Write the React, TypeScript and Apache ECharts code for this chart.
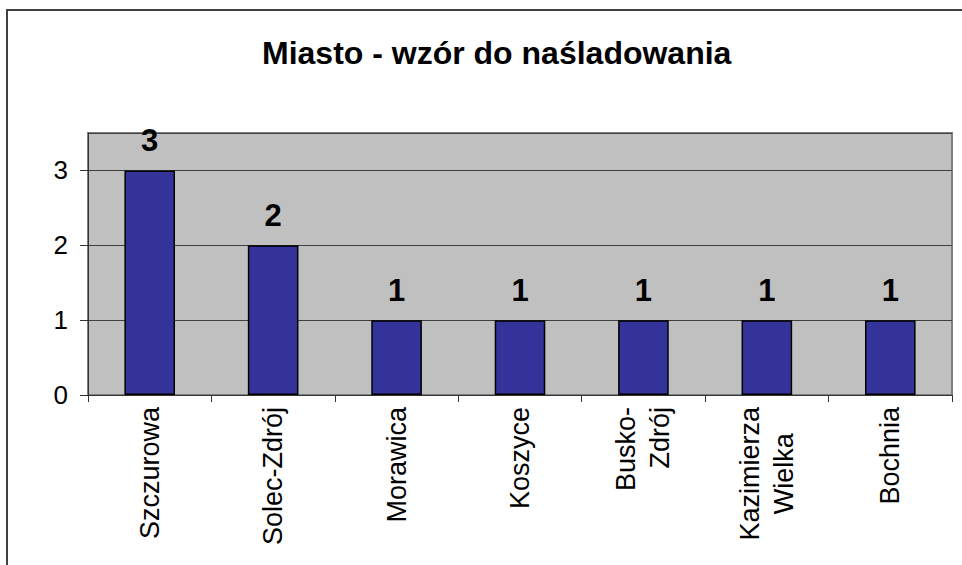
import React, { useEffect, useRef } from "react";
import * as echarts from "echarts";

const TITLE = "Miasto - wzór do naśladowania";
const categories = [
  "Szczurowa",
  "Solec-Zdrój",
  "Morawica",
  "Koszyce",
  "Busko-\nZdrój",
  "Kazimierza\nWielka",
  "Bochnia",
];
const values = [3, 2, 1, 1, 1, 1, 1];
const yTicks = [0, 1, 2, 3];

const FONT = "'Liberation Sans', Arial, sans-serif";

export default function App() {
  const ref = useRef<HTMLDivElement>(null);
  useEffect(() => {
    if (!ref.current) return;
    const chart = echarts.init(ref.current, undefined, { renderer: "svg" });
    chart.setOption({
      animation: false,
      backgroundColor: "#ffffff",
      title: {
        text: TITLE,
        left: 257,
        top: 32,
        textStyle: {
          fontFamily: FONT,
          fontSize: 32,
          fontWeight: "bold",
          color: "#000",
        },
      },
      graphic: [
        {
          type: "rect",
          shape: { x: 7, y: 10, width: 1000, height: 600 },
          style: { fill: "none", stroke: "#404040", lineWidth: 2 },
          silent: true,
          z: 10,
        },
      ],
      grid: {
        left: 88,
        right: 10,
        top: 133,
        bottom: 170,
        show: true,
        backgroundColor: "#c0c0c0",
        borderColor: "#808080",
        borderWidth: 2,
      },
      xAxis: {
        type: "category",
        data: categories,
        boundaryGap: true,
        axisLine: { show: true, lineStyle: { color: "#333", width: 1 } },
        axisTick: { show: true, length: 7, lineStyle: { color: "#333" } },
        axisLabel: {
          rotate: 90,
          margin: 12,
          interval: 0,
          fontFamily: FONT,
          fontSize: 27,
          lineHeight: 34,
          color: "#000",
          formatter: (v: string) =>
            v.indexOf("Kazimierza") === 0
              ? v
                  .split("\n")
                  .map((s) => "{c|" + s + "}")
                  .join("\n")
              : v,
          rich: {
            c: {
              align: "center",
              fontFamily: FONT,
              fontSize: 27,
              lineHeight: 34,
              color: "#000",
            },
          },
        },
      },
      yAxis: {
        type: "value",
        min: yTicks[0],
        max: 3.5,
        interval: 1,
        axisLine: { show: true, lineStyle: { color: "#333" } },
        axisTick: { show: true, length: 8, lineStyle: { color: "#333" } },
        axisLabel: {
          margin: 20,
          showMaxLabel: false,
          fontFamily: FONT,
          fontSize: 26,
          color: "#000",
        },
        splitLine: { show: true, lineStyle: { color: "#404040", width: 1 } },
      },
      series: [
        {
          type: "bar",
          data: values,
          barWidth: "41%",
          itemStyle: {
            color: "#333399",
            borderColor: "#000",
            borderWidth: 1.5,
          },
          label: {
            show: true,
            position: "top",
            distance: 14,
            fontFamily: FONT,
            fontSize: 31,
            fontWeight: "bold",
            color: "#000",
          },
        },
      ],
    });
    return () => chart.dispose();
  }, []);
  return (
    <div
      ref={ref}
      style={{ position: "fixed", left: 0, top: 0, width: 962, height: 565 }}
    />
  );
}
